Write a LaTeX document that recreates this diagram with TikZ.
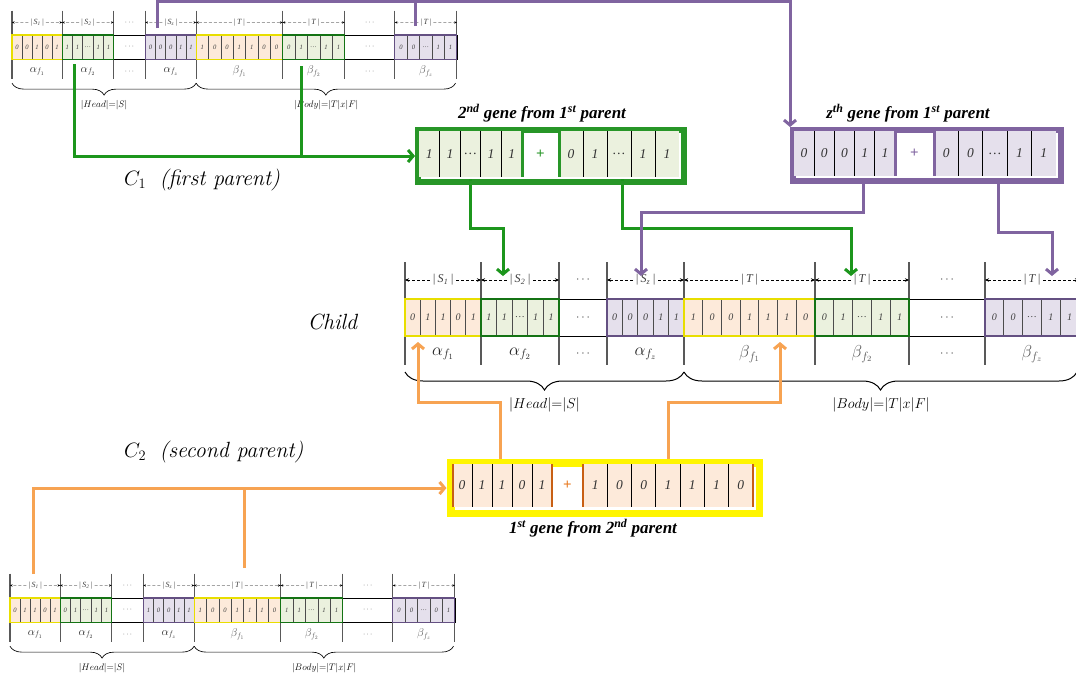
\documentclass[tikz,border=0pt]{standalone}
\usepackage{fontspec}
\newfontfamily\tnr{Liberation Serif}
\usetikzlibrary{arrows.meta,decorations.pathreplacing,calc}

% palette
\definecolor{gl}{RGB}{28,150,28}
\definecolor{pl}{RGB}{128,100,160}
\definecolor{ol}{RGB}{247,163,82}
\definecolor{orfill}{RGB}{253,234,218}
\definecolor{grfill}{RGB}{235,241,222}
\definecolor{pufill}{RGB}{229,224,236}
\definecolor{oredge}{RGB}{232,222,0}
\definecolor{gredge}{RGB}{20,115,20}
\definecolor{puedge}{RGB}{100,80,130}
\definecolor{gboxc}{RGB}{40,150,40}
\definecolor{pboxc}{RGB}{128,100,160}
\definecolor{yboxc}{RGB}{255,245,0}
\definecolor{dorange}{RGB}{200,95,20}
\definecolor{plusor}{RGB}{232,120,30}

\def\chs{1}
\tikzset{
  bitlab/.style={font=\tnr\itshape\fontsize{10}{12}\selectfont, text=black!75, inner sep=0pt},
  dimlab/.style={font=\tnr\itshape\fontsize{12}{14}\selectfont, text=black!75, inner sep=2.5pt},
  dimline/.style={densely dashed, line width=\chs*0.6pt, -{Stealth[length=4pt,width=3.5pt,scale=\chs]}},
  alab/.style={font=\fontsize{17}{20}\selectfont, text=black!85, inner sep=0pt},
  blab/.style={font=\fontsize{17}{20}\selectfont, text=black!65, inner sep=0pt},
  gapdots/.style={font=\fontsize{13}{15}\selectfont, text=black!75, inner sep=0pt},
  totlab/.style={font=\fontsize{15}{18}\selectfont, inner sep=0pt},
  gbit/.style={font=\tnr\itshape\fontsize{13.5}{15}\selectfont, text=black!80, inner sep=0pt},
  plus/.style={font=\tnr\bfseries\fontsize{15}{17}\selectfont, inner sep=0pt},
  gtitle/.style={font=\tnr\bfseries\itshape\fontsize{17}{20}\selectfont, inner sep=0pt},
  plab/.style={font=\fontsize{22}{26}\selectfont, inner sep=0pt},
  conn/.style={line width=3pt},
  tip/.style={-{Straight Barb[length=5pt,width=12pt]}},
}

% one coloured gene segment of a chromosome row: x0, x1, cells, kind, bits
\newcommand\seg[5]{%
  \pgfmathsetmacro\cw{(#2-#1)/#3}%
  \fill[#4fill] (#1,0) rectangle (#2,37);
  \foreach \bv [count=\i] in {#5}{%
    \pgfmathsetmacro\xc{#1+(\i-0.5)*\cw}%
    \node[bitlab] at (\xc,18.5) {\bv};
    \ifnum\i<#3 \draw[line width=\chs*0.9pt, black!70] ({#1+\i*\cw},0) -- ({#1+\i*\cw},37);\fi
  }%
  \draw[line width=\chs*1.6pt, #4edge] (#1,0) rectangle (#2,37);
}

% dashed size arrows above a segment
\newcommand\dimar[3]{%
  \node[dimlab] (dl) at ({(#1+#2)/2},-19) {#3};
  \draw[dimline] (dl.west) -- (#1,-19);
  \draw[dimline] (dl.east) -- (#2,-19);
}

% a whole chromosome: shift, scale, then the bits of the six genes
\newcommand\chromosome[8]{%
\begin{scope}[shift={#1}, scale=#2, every node/.append style={transform shape}]
  \def\chs{#2}
  \foreach \xx in {0,76,154,202,279,410,504,580,674}
    \draw[line width=\chs*1.6pt, black!65] (\xx,-37) -- (\xx,66);
  \draw[line width=\chs*1pt] (0,0) rectangle (674,37);
  \seg{0}{76}{5}{or}{#3}
  \seg{76}{154}{5}{gr}{#4}
  \seg{202}{279}{5}{pu}{#5}
  \seg{279}{410}{7}{or}{#6}
  \seg{410}{504}{5}{gr}{#7}
  \seg{580}{674}{5}{pu}{#8}
  \foreach \xx in {178,542}{
    \node[gapdots] at (\xx,-19) {$\cdots$};
    \node[gapdots] at (\xx,18.5) {$\cdots$};
    \node[gapdots] at (\xx,55) {$\cdots$};
  }
  \dimar{0}{76}{|\,S\textsubscript{1}\,|}
  \dimar{76}{154}{|\,S\textsubscript{2}\,|}
  \dimar{202}{279}{|\,S\textsubscript{z}\,|}
  \dimar{279}{410}{|\,T\,|}
  \dimar{410}{504}{|\,T\,|}
  \dimar{580}{674}{|\,T\,|}
  \node[alab] at (38,55) {$\alpha_{f_1}$};
  \node[alab] at (115,55) {$\alpha_{f_2}$};
  \node[alab] at (240.5,55) {$\alpha_{f_z}$};
  \node[blab] at (344.5,55) {$\beta_{f_1}$};
  \node[blab] at (457,55) {$\beta_{f_2}$};
  \node[blab] at (627,55) {$\beta_{f_z}$};
  \pgfmathsetmacro\bamp{18*\chs}
  \draw[line width=\chs*1pt, decorate, decoration={brace, mirror, amplitude=\bamp pt}] (0,73) -- (279,73);
  \draw[line width=\chs*1pt, decorate, decoration={brace, mirror, amplitude=\bamp pt}] (279,73) -- (672,73);
  \node[totlab] at (139.5,106) {$|Head|{=}|S|$};
  \node[totlab] at (476,106) {$|Body|{=}|T|x|F|$};
\end{scope}}

% equal cells inside a gene box: x0, x1, y0, y1, cells, bits
\newcommand\gcells[6]{%
  \pgfmathsetmacro\cw{(#2-#1)/#5}%
  \fill[\gfill] (#1,#3) rectangle (#2,#4);
  \foreach \bv [count=\i] in {#6}{%
    \node[gbit] at ({#1+(\i-0.5)*\cw},{(#3+#4)/2}) {\bv};
    \ifnum\i<#5 \draw[line width=1pt] ({#1+\i*\cw},#3) -- ({#1+\i*\cw},#4);\fi
  }%
}

\begin{document}
\begin{tikzpicture}[x=1pt,y=-1pt]
\path[use as bounding box] (0,0) rectangle (1076,678);
\clip (0,0) rectangle (1076,678);
\fill[white] (0,0) rectangle (1076,678);

% parent and child chromosomes
\chromosome{(12,35)}{0.66}{0,0,1,0,1}{1,1,\ldots,1,1}{0,0,0,1,1}{1,0,0,1,1,0,0}{0,1,\ldots,1,1}{0,0,\ldots,1,1}
\chromosome{(405,299)}{1}{0,1,1,0,1}{1,1,\ldots,1,1}{0,0,0,1,1}{1,0,0,1,1,1,0}{0,1,\ldots,1,1}{0,0,\ldots,1,1}
\chromosome{(10,598)}{0.66}{0,1,1,0,1}{0,1,\ldots,1,1}{1,0,0,1,1}{1,0,0,1,1,1,0}{1,1,\ldots,1,1}{0,0,\ldots,0,1}

% row labels
\node[plab, anchor=west] (c1lab) at (124,180) {$C_1$~~\textit{(first parent)}};
\node[plab] (chlab) at (333,322) {\textit{Child}};
\node[plab, anchor=west] (c2lab) at (124,452) {$C_2$~~\textit{(second parent)}};

% gene boxes (frames as named nodes)
\node (gA) [draw=gboxc, line width=4pt, minimum width=264pt, minimum height=50pt, inner sep=0pt, anchor=north west] at (417,129) {};
\node (pA) [draw=pboxc, line width=4pt, minimum width=266pt, minimum height=49pt, inner sep=0pt, anchor=north west] at (792,129) {};
\node (yA) [draw=yboxc, line width=5pt, minimum width=306pt, minimum height=48pt, inner sep=0pt, anchor=north west] at (449.5,461.5) {};

% connector end points
\coordinate (tA2) at (74,64);
\coordinate (tB2) at (301,66);
\coordinate (tAz) at (157,28);
\coordinate (tBz) at (415,26);
\coordinate (bA1) at (33,574);
\coordinate (bB1) at (244,568);
\coordinate (cS2) at (503,276);
\coordinate (cT2) at (851,276);
\coordinate (cSz) at (641,276);
\coordinate (cTz) at (1052,276);
\coordinate (cA1) at (418,342);
\coordinate (cB1) at (780,342);
\coordinate (gO1) at (470,179);
\coordinate (gO2) at (622,179);
\coordinate (pO1) at (863,178);
\coordinate (pO2) at (998,178);
\coordinate (yO1) at (500,461.5);
\coordinate (yO2) at (668,461.5);
\coordinate (pIn) at (790,129);

% connectors
\draw[conn, gl] (tB2) -- (tB2 |- gA.west);
\draw[conn, gl, tip, shorten >=2pt] (tA2) |- (gA.west);
\draw[conn, gl, tip] (gO1) -- ++(0,49) -| (cS2);
\draw[conn, gl, tip] (gO2) -- ++(0,49) -| (cT2);
\draw[conn, pl] (tBz) -- ++(0,-24.5);
\draw[conn, pl, tip, shorten >=2pt] (tAz) -- ++(0,-26.5) -| (pIn);
\draw[conn, pl, tip] (pO1) -- ++(0,34) -| (cSz);
\draw[conn, pl, tip] (pO2) -- ++(0,54) -| (cTz);
\draw[conn, ol, tip] (yO1) -- ++(0,-59.5) -| (cA1);
\draw[conn, ol, tip] (yO2) -- ++(0,-59.5) -| (cB1);
\draw[conn, ol] (bB1) -- (bB1 |- yA.west);
\draw[conn, ol, tip, shorten >=3pt] (bA1) |- (yA.west);

% 2nd gene from 1st parent
\def\gfill{grfill}
\gcells{419}{522}{131}{177}{5}{1,1,\ldots,1,1}
\gcells{559}{679}{131}{177}{5}{0,1,\ldots,1,1}
\node[plus, text=gboxc] at (540.5,154) {+};
\draw[gboxc, line width=3pt] (522,131) -- (522,177) (559,131) -- (559,177);
\draw[gboxc, line width=4pt] (gA.north west) rectangle (gA.south east);
\node[gtitle] (gAt) at (542,113) {2\textsuperscript{nd} gene from 1\textsuperscript{st} parent};

% z-th gene from 1st parent
\def\gfill{pufill}
\gcells{794}{895}{131}{176}{5}{0,0,0,1,1}
\gcells{934}{1056}{131}{176}{5}{0,0,\ldots,1,1}
\node[plus, text=pboxc] at (914.5,153.5) {+};
\draw[pboxc, line width=3pt] (895,131) -- (895,176) (934,131) -- (934,176);
\draw[pboxc, line width=4pt] (pA.north west) rectangle (pA.south east);
\node[gtitle] (pAt) at (908,113) {z\textsuperscript{th} gene from 1\textsuperscript{st} parent};

% 1st gene from 2nd parent
\def\gfill{orfill}
\gcells{452}{552}{464}{507}{5}{0,1,1,0,1}
\gcells{583}{753}{464}{507}{7}{1,0,0,1,1,1,0}
\node[plus, text=plusor] at (567.5,485.5) {+};
\draw[dorange, line width=2.5pt] (453,464) -- (453,507) (552,464) -- (552,507) (583,464) -- (583,507) (753,464) -- (753,507);
\draw[yboxc, line width=5pt] (yA.north west) rectangle (yA.south east);
\node[gtitle] (yAt) at (593,528) {1\textsuperscript{st} gene from 2\textsuperscript{nd} parent};
\end{tikzpicture}
\end{document}
